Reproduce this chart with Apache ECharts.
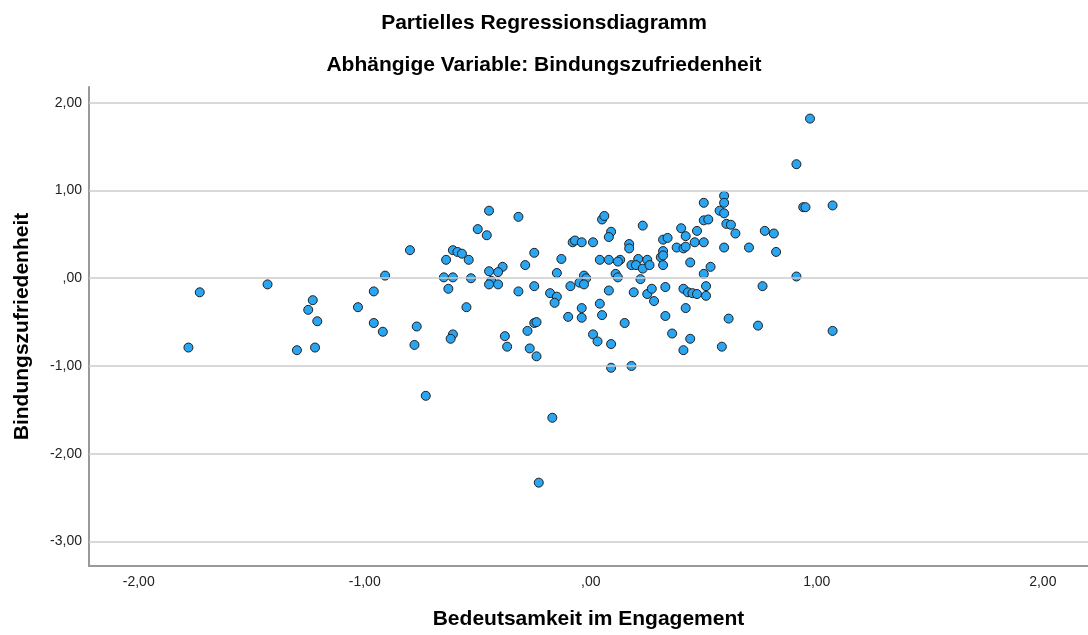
<!DOCTYPE html>
<html><head><meta charset="utf-8">
<script src="https://cdn.jsdelivr.net/npm/echarts@6/dist/echarts.min.js"></script>
<style>html,body{margin:0;padding:0;background:#fff}#c{width:1088px;height:635px}</style>
</head><body><div id="c"></div>
<script>
const titleText = 'Partielles Regressionsdiagramm';
const subtitleText = 'Abhängige Variable: Bindungszufriedenheit';
const xName = 'Bedeutsamkeit im Engagement';
const yName = 'Bindungszufriedenheit';
const xTicks = [-2, -1, 0, 1, 2];
const yTicks = [-3, -2, -1, 0, 1, 2];

const xValues = [
  -1.73,-1.78,-1.43,-1.23,-1.25,-1.21,-1.30,-1.22,
  -0.45,-0.32,-0.50,-0.46,-0.80,-0.61,-0.59,-0.57,-0.54,-0.64,-0.25,-0.13,-0.29,-0.39,-0.45,-0.41,-0.15,-0.91,-0.65,-0.61,-0.53,-0.44,-0.45,-0.41,-0.25,-0.09,-0.96,-0.63,-0.32,-0.18,-0.15,-0.16,-1.03,-0.55,-0.96,-0.92,-0.77,-0.10,-0.25,-0.24,-0.28,-0.61,-0.62,-0.78,-0.38,-0.37,-0.27,-0.24,-0.73,
  0.91,0.59,0.59,0.50,0.57,0.59,0.94,0.95,0.50,0.52,0.05,0.06,0.23,0.60,0.62,0.40,0.47,0.64,0.77,0.81,0.09,0.08,0.42,0.32,0.34,-0.08,-0.07,-0.04,0.01,0.17,0.17,0.46,0.50,0.38,0.41,0.42,0.59,0.70,0.82,0.32,0.31,0.32,0.04,0.08,0.13,0.12,0.21,0.25,0.18,0.20,0.23,0.26,0.32,0.44,0.53,0.50,0.11,0.12,0.22,-0.03,-0.02,-0.05,-0.03,0.08,0.19,0.25,0.27,0.28,0.33,0.41,0.43,0.45,0.47,0.51,0.51,0.76,0.91,0.04,-0.04,-0.04,0.05,0.33,0.42,0.15,0.61,0.74,0.01,0.03,0.09,0.36,0.44,0.41,0.58,0.09,0.18,
  0.97,1.07,1.07,
  -0.17,-0.23
];
const yValues = [
  -0.16,-0.79,-0.07,-0.25,-0.36,-0.49,-0.82,-0.79,
  0.77,0.70,0.56,0.49,0.32,0.32,0.30,0.28,0.21,0.21,0.29,0.22,0.15,0.13,0.08,0.07,0.06,0.03,0.01,0.01,0.00,-0.03,-0.07,-0.07,-0.09,-0.09,-0.15,-0.12,-0.15,-0.17,-0.21,-0.28,-0.33,-0.33,-0.51,-0.61,-0.55,-0.44,-0.51,-0.50,-0.60,-0.64,-0.69,-0.76,-0.66,-0.78,-0.80,-0.89,-1.34,
  1.30,0.94,0.86,0.86,0.77,0.74,0.81,0.81,0.66,0.67,0.67,0.71,0.60,0.62,0.61,0.57,0.54,0.51,0.54,0.51,0.53,0.47,0.48,0.44,0.46,0.41,0.43,0.41,0.41,0.39,0.34,0.41,0.41,0.35,0.34,0.36,0.35,0.35,0.30,0.31,0.24,0.26,0.21,0.21,0.21,0.19,0.22,0.21,0.15,0.15,0.11,0.15,0.15,0.18,0.13,0.05,0.05,0.01,-0.01,0.03,0.00,-0.05,-0.07,-0.14,-0.16,-0.18,-0.12,-0.26,-0.10,-0.12,-0.16,-0.17,-0.18,-0.09,-0.20,-0.09,0.02,-0.29,-0.34,-0.45,-0.42,-0.43,-0.34,-0.51,-0.46,-0.54,-0.64,-0.72,-0.75,-0.63,-0.69,-0.82,-0.78,-1.02,-1.00,
  1.82,0.83,-0.60,
  -1.59,-2.33
];

function fmt(v) {
  const a = Math.abs(v).toFixed(2).replace('.', ',');
  const s = a.startsWith('0,') ? a.slice(1) : a;
  return (v < 0 ? '-' : '') + s;
}

const FONT = '"Liberation Sans", Arial, sans-serif';
const points = xValues.map((x, i) => [x, yValues[i]]);

const chart = echarts.init(document.getElementById('c'), null, {renderer: 'canvas'});
chart.setOption({
  backgroundColor: '#ffffff',
  animation: false,
  textStyle: {fontFamily: FONT},
  title: [
    {text: titleText, left: 'center', top: 8,
     textStyle: {fontFamily: FONT, fontSize: 21, fontWeight: 'bold', color: '#000'}},
    {text: subtitleText, left: 'center', top: 50,
     textStyle: {fontFamily: FONT, fontSize: 21, fontWeight: 'bold', color: '#000'}}
  ],
  grid: {left: 89, right: 0, top: 87, bottom: 68, containLabel: false},
  xAxis: {
    type: 'value', min: -2.22, max: 2.2,
    name: xName, nameLocation: 'middle', nameGap: 43,
    nameTextStyle: {fontFamily: FONT, fontSize: 21, fontWeight: 'bold', color: '#000'},
    axisLine: {show: true, onZero: false, lineStyle: {color: '#999', width: 2}},
    axisTick: {show: false},
    splitLine: {show: false},
    axisLabel: {customValues: xTicks, formatter: fmt, margin: 9,
      fontFamily: FONT, fontSize: 14, color: '#222'}
  },
  yAxis: {
    type: 'value', min: -3.28, max: 2.18,
    name: yName, nameLocation: 'middle', nameGap: 56, nameRotate: 90,
    nameTextStyle: {fontFamily: FONT, fontSize: 21, fontWeight: 'bold', color: '#000'},
    axisLine: {show: true, onZero: false, lineStyle: {color: '#999', width: 2}},
    axisTick: {show: false},
    splitLine: {show: false},
    axisLabel: {customValues: yTicks, formatter: fmt, margin: 7,
      fontFamily: FONT, fontSize: 14, color: '#222'}
  },
  series: [
    {
      type: 'scatter', data: [], z: 1, silent: true,
      markLine: {
        silent: true, symbol: 'none', animation: false,
        label: {show: false},
        lineStyle: {color: '#cdcdcd', width: 1.5, type: 'solid'},
        data: yTicks.map(v => ({yAxis: v}))
      }
    },
    {
      type: 'scatter', z: 3, data: points, symbol: 'circle', symbolSize: 9,
      itemStyle: {color: '#2aa5f2', borderColor: '#1f1f1f', borderWidth: 1, opacity: 1}
    }
  ]
});
</script>
</body></html>
